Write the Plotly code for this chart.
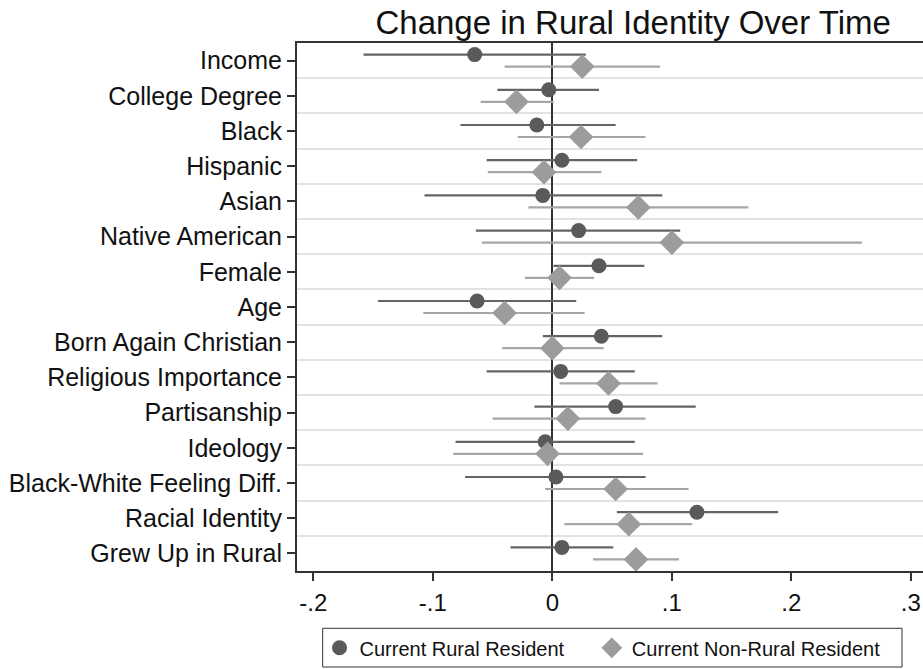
import plotly.graph_objects as go

categories = ["Income", "College Degree", "Black", "Hispanic", "Asian", "Native American",
              "Female", "Age", "Born Again Christian", "Religious Importance", "Partisanship",
              "Ideology", "Black-White Feeling Diff.", "Racial Identity", "Grew Up in Rural"]

rural_est = [-0.065, -0.003, -0.013, 0.008, -0.008, 0.022, 0.039, -0.063, 0.041, 0.007,
             0.053, -0.006, 0.003, 0.121, 0.008]
rural_lo = [-0.158, -0.046, -0.077, -0.055, -0.107, -0.064, 0.001, -0.146, -0.008, -0.055,
            -0.015, -0.081, -0.073, 0.054, -0.035]
rural_hi = [0.028, 0.039, 0.053, 0.071, 0.092, 0.107, 0.077, 0.020, 0.092, 0.069,
            0.120, 0.069, 0.078, 0.189, 0.051]

nonrural_est = [0.025, -0.030, 0.024, -0.007, 0.072, 0.100, 0.006, -0.040, 0.000, 0.047,
                0.013, -0.004, 0.053, 0.064, 0.070]
nonrural_lo = [-0.040, -0.060, -0.029, -0.054, -0.020, -0.059, -0.023, -0.108, -0.042, 0.006,
               -0.050, -0.083, -0.006, 0.010, 0.034]
nonrural_hi = [0.090, 0.001, 0.078, 0.041, 0.164, 0.259, 0.035, 0.027, 0.043, 0.088,
               0.078, 0.076, 0.114, 0.117, 0.106]

x_ticks = [-0.2, -0.1, 0, 0.1, 0.2, 0.3]
x_tick_labels = ["-.2", "-.1", "0", ".1", ".2", ".3"]

FONT = "Liberation Sans, Arial, sans-serif"
idx = list(range(len(categories)))
off = 0.17

fig = go.Figure()
fig.add_trace(go.Scatter(
    x=rural_est, y=[i - off for i in idx], mode="markers", name="Current Rural Resident",
    legend="legend",
    marker=dict(symbol="circle", size=15, color="#5a5a5a"),
    error_x=dict(type="data", symmetric=False,
                 array=[h - e for h, e in zip(rural_hi, rural_est)],
                 arrayminus=[e - l for e, l in zip(rural_est, rural_lo)],
                 color="#646464", thickness=2.2, width=0),
))
fig.add_trace(go.Scatter(
    x=nonrural_est, y=[i + off for i in idx], mode="markers", name="Current Non-Rural Resident",
    legend="legend2",
    marker=dict(symbol="diamond", size=19, color="#9c9c9c"),
    error_x=dict(type="data", symmetric=False,
                 array=[h - e for h, e in zip(nonrural_hi, nonrural_est)],
                 arrayminus=[e - l for e, l in zip(nonrural_est, nonrural_lo)],
                 color="#a6a6a6", thickness=2.2, width=0),
))

# legend frame
fig.add_shape(type="rect", xref="paper", yref="paper",
              x0=0.041, x1=0.9665, y0=-0.1085, y1=-0.1818,
              line=dict(color="#333333", width=1), fillcolor="rgba(0,0,0,0)")

legend_common = dict(orientation="h", xanchor="left", y=-0.1085, yanchor="top",
                     borderwidth=0, bgcolor="rgba(0,0,0,0)",
                     font=dict(size=20, family=FONT, color="#111111"))

fig.update_layout(
    width=923, height=669,
    margin=dict(l=297, r=0, t=43, b=98),
    paper_bgcolor="white", plot_bgcolor="white",
    font=dict(family=FONT, color="#111111"),
    title=dict(text="Change in Rural Identity Over Time", x=0.537, xref="paper", xanchor="center",
               y=0.967, yref="container", yanchor="middle",
               font=dict(size=33, family=FONT, color="#111111")),
    showlegend=True,
    legend=dict(x=0.036, **legend_common),
    legend2=dict(x=0.471, **legend_common),
    xaxis=dict(range=[-0.2137, 0.3102], tickvals=x_ticks, ticktext=x_tick_labels,
               showgrid=False, zeroline=True, zerolinecolor="#333333", zerolinewidth=2,
               showline=True, linecolor="#333333", linewidth=2, mirror=True,
               ticks="outside", ticklen=8, tickwidth=1.5, tickcolor="#333333",
               ticklabelstandoff=1,
               tickfont=dict(size=24, family=FONT, color="#111111")),
    yaxis=dict(range=[14.5, -0.5], tickvals=idx, ticktext=categories,
               showgrid=False, zeroline=False,
               showline=True, linecolor="#333333", linewidth=2,
               ticks="outside", ticklen=8, tickwidth=1.5, tickcolor="#333333",
               minor=dict(tickvals=[i + 0.5 for i in idx[:-1]], showgrid=True,
                          gridcolor="#e2e2e2", gridwidth=2, ticks=""),
               tickfont=dict(size=25, family=FONT, color="#111111")),
)

fig.write_html("out.html", config={"displayModeBar": False},
               post_script="document.body.style.margin='0px';document.body.style.overflow='hidden';")
